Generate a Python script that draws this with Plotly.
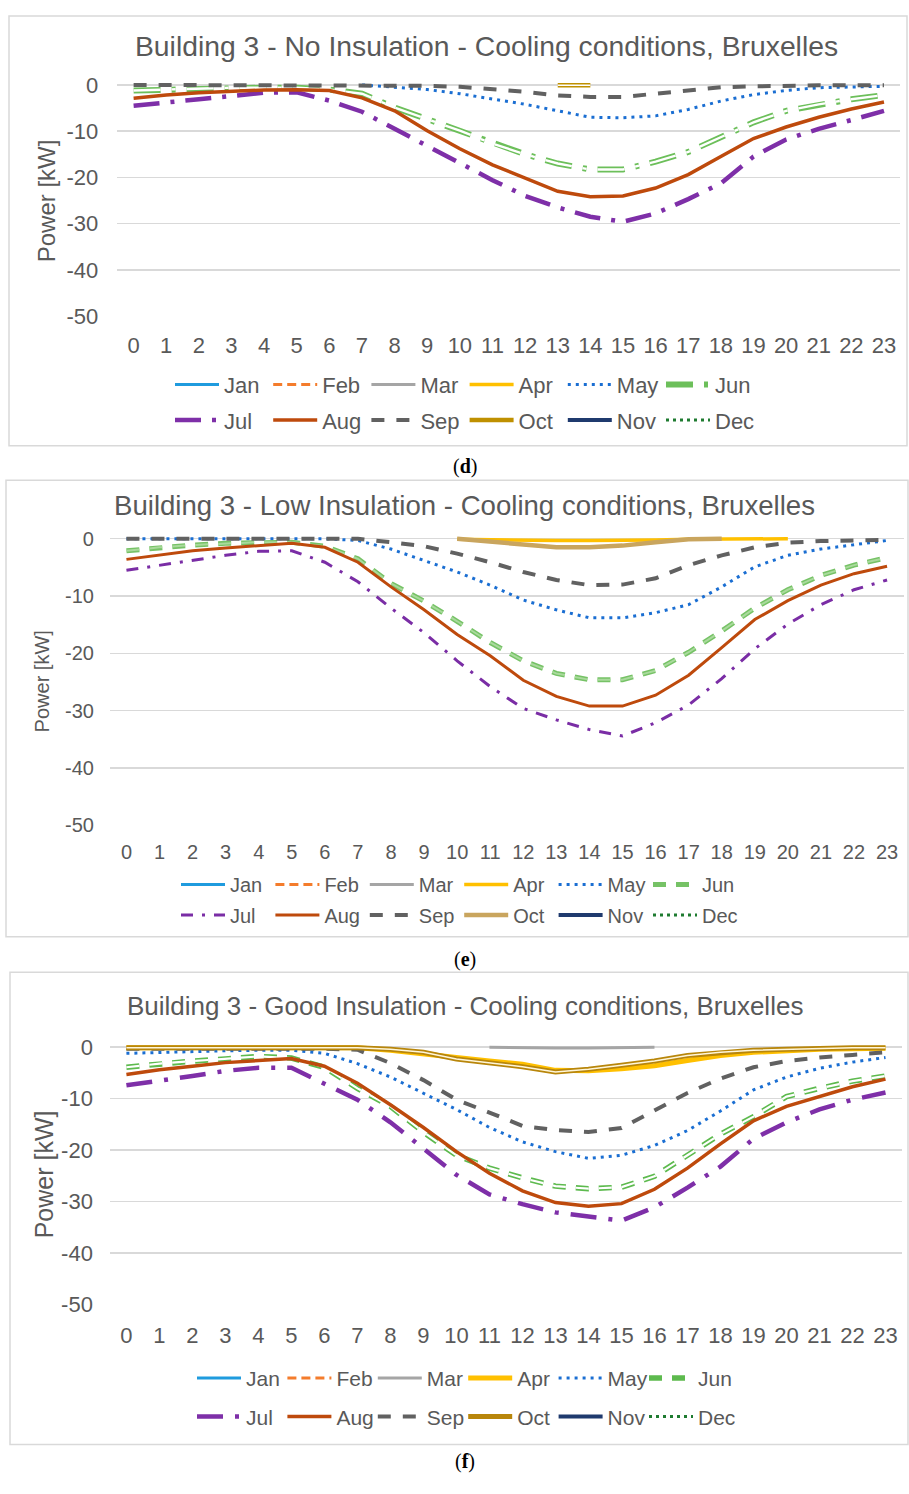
import plotly.graph_objects as go

W, H = 909, 1494


def fx(px):
    return px / W


def fy(py):
    return 1 - py / H


HOURS = list(range(24))
HOUR_LABELS = [str(h) for h in HOURS]
MONTHS = ["Jan", "Feb", "Mar", "Apr", "May", "Jun",
          "Jul", "Aug", "Sep", "Oct", "Nov", "Dec"]
Y_TICKS = [0, -10, -20, -30, -40, -50]
NO_DATA = [None] * 24

# ---------------- (d) No insulation ----------------
d_jan = NO_DATA
d_feb = NO_DATA
d_mar = NO_DATA
d_apr = NO_DATA
d_may = [None, None, None, None, None, None, None, 0.0, -0.5, -1.0, -1.9, -3.1,
         -4.2, -5.6, -7.0, -7.1, -6.7, -5.3, -3.5, -2.1, -1.2, -0.6, -0.4, -0.3]
d_jun = [-1.2, -1.0, -0.8, -0.6, -0.6, -0.6, -1.0, -1.9, -4.9, -7.4, -9.9, -12.7,
         -15.0, -17.0, -18.3, -18.3, -16.6, -14.5, -11.3, -8.1, -5.6, -4.2, -3.1, -2.2]
d_jul = [-4.5, -3.7, -3.1, -2.4, -1.7, -1.6, -3.4, -5.8, -9.5, -13.4, -17.0, -20.6,
         -24.0, -26.5, -28.5, -29.6, -27.8, -24.7, -21.3, -15.5, -11.8, -9.5, -7.6, -5.6]
d_aug = [-2.9, -2.2, -1.7, -1.35, -1.1, -1.05, -1.2, -2.8, -5.6, -9.9, -13.8, -17.3,
         -20.1, -23.0, -24.2, -24.0, -22.3, -19.4, -15.5, -11.6, -9.1, -7.0, -5.2, -3.7]
d_sep = [0.0, 0.0, 0.0, 0.0, 0.0, 0.0, 0.0, 0.0, -0.1, -0.2, -0.4, -0.85,
         -1.5, -2.3, -2.6, -2.6, -1.9, -1.0, -0.5, -0.3, -0.1, -0.1, -0.1, -0.1]
d_oct = [None, None, None, None, None, None, None, None, None, None, None, None,
         None, -0.1, -0.1, None, None, None, None, None, None, None, None, None]
d_nov = NO_DATA
d_dec = NO_DATA

# ---------------- (e) Low insulation ----------------
e_jan = NO_DATA
e_feb = NO_DATA
e_mar = NO_DATA
e_apr = [None, None, None, None, None, None, None, None, None, None, -0.1, -0.2,
         -0.3, -0.3, -0.3, -0.3, -0.2, -0.1, -0.1, -0.1, 0.0, None, None, None]
e_may = [0.0, 0.0, 0.0, 0.0, 0.0, 0.0, 0.0, -0.3, -1.8, -3.8, -5.8, -8.1,
         -10.7, -12.4, -13.8, -13.8, -12.9, -11.5, -8.4, -4.9, -2.9, -1.8, -1.1, -0.3]
e_jun = [-2.1, -1.5, -1.1, -0.8, -0.6, -0.6, -1.3, -3.5, -7.8, -10.9, -14.4, -18.1,
         -21.3, -23.5, -24.6, -24.6, -23.0, -19.8, -16.1, -12.1, -8.9, -6.4, -4.6, -3.3]
e_jul = [-5.5, -4.6, -3.8, -2.9, -2.2, -2.1, -4.1, -7.5, -12.1, -16.4, -21.3, -25.8,
         -29.6, -31.6, -33.3, -34.4, -32.1, -29.0, -24.4, -19.2, -14.9, -11.5, -8.9, -7.2]
e_aug = [-3.6, -2.8, -2.1, -1.6, -1.2, -0.8, -1.5, -4.1, -8.4, -12.4, -16.7, -20.4,
         -24.7, -27.5, -29.2, -29.2, -27.3, -23.8, -19.0, -14.1, -10.8, -8.1, -6.1, -4.8]
e_sep = [0.0, 0.0, 0.0, 0.0, 0.0, 0.0, 0.0, 0.0, -0.6, -1.3, -2.6, -4.1,
         -5.8, -7.2, -8.1, -8.0, -6.9, -4.6, -2.9, -1.5, -0.7, -0.4, -0.3, -0.2]
e_oct = [None, None, None, None, None, None, None, None, None, None, 0.0, -0.5,
         -1.0, -1.5, -1.5, -1.2, -0.6, -0.1, 0.0, None, None, None, None, None]
e_nov = NO_DATA
e_dec = NO_DATA

# ---------------- (f) Good insulation ----------------
f_jan = NO_DATA
f_feb = NO_DATA
f_mar = [None, None, None, None, None, None, None, None, None, None, None, 0.0,
         -0.1, -0.15, -0.15, -0.1, 0.0, None, None, None, None, None, None, None]
f_apr = [-0.1, -0.1, -0.1, -0.1, -0.1, -0.1, -0.1, -0.1, -0.6, -1.2, -2.0, -2.7,
         -3.3, -4.5, -4.6, -4.2, -3.6, -2.6, -1.6, -1.0, -0.6, -0.4, -0.3, -0.2]
f_may = [-1.2, -1.0, -0.8, -0.7, -0.6, -0.6, -1.2, -3.2, -5.8, -8.9, -12.1, -15.6,
         -18.4, -20.3, -21.6, -21.0, -19.1, -16.2, -12.4, -8.3, -5.8, -4.1, -2.9, -2.0]
f_jun = [-3.9, -3.2, -2.7, -2.3, -1.8, -2.1, -3.9, -8.0, -11.5, -16.5, -21.0, -23.5,
         -25.4, -27.0, -27.5, -27.2, -25.1, -21.0, -16.9, -13.5, -9.6, -8.0, -6.6, -5.6]
f_jul = [-7.4, -6.6, -5.6, -4.6, -4.0, -4.0, -7.0, -10.2, -14.6, -19.7, -24.8, -28.6,
         -30.5, -32.1, -33.0, -33.7, -31.1, -27.3, -23.2, -17.8, -14.6, -12.1, -10.2, -8.8]
f_aug = [-5.3, -4.4, -3.7, -3.0, -2.6, -2.2, -3.7, -7.0, -11.2, -15.6, -20.3, -24.5,
         -27.9, -30.2, -30.9, -30.4, -27.6, -23.5, -18.8, -14.3, -11.5, -9.6, -7.7, -6.2]
f_sep = [-0.3, -0.3, -0.3, -0.3, -0.3, -0.3, -0.3, -0.5, -3.1, -6.4, -10.2, -12.7,
         -15.3, -16.1, -16.5, -15.7, -12.4, -8.9, -6.1, -3.9, -2.7, -2.0, -1.5, -1.0]
f_oct = [-0.1, -0.1, -0.1, -0.1, -0.1, -0.1, -0.1, -0.1, -0.4, -1.0, -2.3, -3.0,
         -3.8, -4.8, -4.3, -3.5, -2.7, -1.6, -1.0, -0.6, -0.4, -0.2, -0.1, -0.1]
f_nov = NO_DATA
f_dec = NO_DATA

DATA_D = [d_jan, d_feb, d_mar, d_apr, d_may, d_jun, d_jul, d_aug, d_sep, d_oct, d_nov, d_dec]
DATA_E = [e_jan, e_feb, e_mar, e_apr, e_may, e_jun, e_jul, e_aug, e_sep, e_oct, e_nov, e_dec]
DATA_F = [f_jan, f_feb, f_mar, f_apr, f_may, f_jun, f_jul, f_aug, f_sep, f_oct, f_nov, f_dec]

TITLES = [
    "Building 3 - No Insulation - Cooling conditions, Bruxelles",
    "Building 3 - Low Insulation - Cooling conditions, Bruxelles",
    "Building 3 - Good Insulation - Cooling conditions, Bruxelles",
]
CAPTIONS = ["d", "e", "f"]

# ---------------- styles ----------------
BASE = {
    "Jan": dict(color="#1F9BDE", width=3, dash="solid"),
    "Feb": dict(color="#F47C2C", width=3, dash="9px,5px"),
    "Mar": dict(color="#A5A5A5", width=3, dash="solid"),
    "Apr": dict(color="#FFC000", width=3.5, dash="solid"),
    "May": dict(color="#1A6ED2", width=3, dash="3px,5px"),
    "Aug": dict(color="#BE4A0C", width=3.5, dash="solid"),
    "Sep": dict(color="#616161", width=4, dash="13px,12px"),
    "Nov": dict(color="#1F3A6E", width=4, dash="solid"),
    "Dec": dict(color="#1E7B30", width=3, dash="3px,4px"),
}
PANEL_STYLE = [
    {
        "Jun": dict(color="#6CBF5A", width=6, dash="27px,11px,4px,11px", inner=("#FFFFFF", 2.4)),
        "Jul": dict(color="#7E2FA8", width=4.5, dash="26px,11px,4px,11px"),
        "Oct": dict(color="#BF9000", width=4.5, dash="solid", inner=("#FFFFFF", 1.5)),
    },
    {
        "Jun": dict(color="#76C266", width=5, dash="13px,10px", inner=("#A9DA9C", 2)),
        "Jul": dict(color="#7A2DA5", width=3, dash="12px,9px,3px,9px"),
        "Oct": dict(color="#C9A55E", width=4.5, dash="solid"),
        "Aug": dict(color="#BE4A0C", width=3, dash="solid"),
    },
    {
        "Jun": dict(color="#5DBA4E", width=5.5, dash="13px,10px", inner=("#FFFFFF", 2.2)),
        "Jul": dict(color="#7E2FA8", width=4.5, dash="26px,12px,4px,12px"),
        "Oct": dict(color="#B8860B", width=5, dash="solid", inner=("#FFF6DA", 1.5)),
        "Apr": dict(color="#FFC000", width=5, dash="solid"),
    },
]

# ---------------- geometry (pixels) ----------------
GEOM = [
    dict(x0=117.3, x1=900.3, y0=78.0, y50=312.5, title_xy=(486, 39), title_size=28.3,
         tick_size=22, ytitle_xy=(46, 196), ytitle_size=24, leg_size=22,
         leg_x=176, leg_pitch=98.2, leg_rows=(382, 418), cap_y=465,
         frame=(9, 8, 907, 444), xstand=14, ystand=18),
    dict(x0=109.9, x1=903.6, y0=538.3, y50=829.0, title_xy=(464, 505), title_size=27.6,
         tick_size=20, ytitle_xy=(42, 683), ytitle_size=20, leg_size=20,
         leg_x=182, leg_pitch=94.4, leg_rows=(889, 920), cap_y=965,
         frame=(6, 479, 908, 942), xstand=13, ystand=15),
    dict(x0=109.9, x1=902.0, y0=1054.0, y50=1315.0, title_xy=(465, 1012), title_size=26,
         tick_size=22, ytitle_xy=(44, 1183), ytitle_size=25, leg_size=21,
         leg_x=198, leg_pitch=90.4, leg_rows=(1390, 1429), cap_y=1474,
         frame=(10, 978, 908, 1457), xstand=15, ystand=16),
]

FONT = "Liberation Sans, Arial, sans-serif"
TXT = "#595959"
EXT = 0.9  # headroom above 0 so the lines at 0 are not clipped

fig = go.Figure()
layout = dict(width=W, height=H, margin=dict(l=0, r=0, t=0, b=0),
              paper_bgcolor="white", plot_bgcolor="white", showlegend=True,
              annotations=[], shapes=[])

for p in range(3):
    g = GEOM[p]
    sfx = "" if p == 0 else str(p + 1)
    xa, ya = "x" + sfx, "y" + sfx
    leg1 = "legend" if p == 0 else "legend" + str(2 * p + 1)
    leg2 = "legend" + str(2 * p + 2)
    scale = (g["y50"] - g["y0"]) / 50.0
    top_px = g["y0"] - EXT * scale
    data = [DATA_D, DATA_E, DATA_F][p]

    for i, m in enumerate(MONTHS):
        st = dict(BASE.get(m, {}))
        st.update(PANEL_STYLE[p].get(m, {}))
        leg = leg1 if i < 6 else leg2
        fig.add_trace(go.Scatter(
            x=HOURS, y=data[i], name=m, mode="lines", xaxis=xa, yaxis=ya,
            legend=leg, connectgaps=False, hoverinfo="skip",
            line=dict(color=st["color"], width=st["width"], dash=st["dash"]),
        ))
        if "inner" in st:
            ic, iw = st["inner"]
            fig.add_trace(go.Scatter(
                x=HOURS, y=data[i], name=m, mode="lines", xaxis=xa, yaxis=ya,
                legend=leg, showlegend=False, hoverinfo="skip",
                line=dict(color=ic, width=iw, dash=st["dash"]),
            ))

    layout["xaxis" + sfx] = dict(
        domain=[fx(g["x0"]), fx(g["x1"])], range=[-0.5, 23.5], anchor=ya,
        tickmode="array", tickvals=HOURS, ticktext=HOUR_LABELS,
        showgrid=False, zeroline=False, showline=False, ticks="",
        ticklabelstandoff=g["xstand"],
        tickfont=dict(family=FONT, size=g["tick_size"], color=TXT), fixedrange=True)
    layout["yaxis" + sfx] = dict(
        domain=[fy(g["y50"]), fy(top_px)], range=[-50, EXT], anchor=xa,
        tickmode="array", tickvals=Y_TICKS, ticktext=[str(v) for v in Y_TICKS],
        showgrid=True, gridcolor="#D9D9D9", gridwidth=1.5, zeroline=False,
        showline=False, ticks="", ticklabelstandoff=g["ystand"],
        tickfont=dict(family=FONT, size=g["tick_size"], color=TXT), fixedrange=True)

    for r, (lg, ry) in enumerate(zip((leg1, leg2), g["leg_rows"])):
        layout[lg] = dict(
            orientation="h", x=fx(g["leg_x"] - 6), y=fy(ry), xanchor="left",
            yanchor="middle", bgcolor="rgba(0,0,0,0)", borderwidth=0,
            font=dict(family=FONT, size=g["leg_size"], color=TXT),
            itemwidth=44, entrywidth=g["leg_pitch"] - 59, entrywidthmode="pixels",
            traceorder="normal", itemclick=False, itemdoubleclick=False,
            tracegroupgap=0)

    tx, ty = g["title_xy"]
    layout["annotations"].append(dict(
        text=TITLES[p], x=fx(tx), y=fy(ty), xref="paper", yref="paper",
        xanchor="center", yanchor="middle", showarrow=False,
        font=dict(family=FONT, size=g["title_size"], color=TXT)))
    yx, yy = g["ytitle_xy"]
    layout["annotations"].append(dict(
        text="Power [kW]", x=fx(yx), y=fy(yy), xref="paper", yref="paper",
        xanchor="center", yanchor="middle", showarrow=False, textangle=-90,
        font=dict(family=FONT, size=g["ytitle_size"], color=TXT)))
    layout["annotations"].append(dict(
        text="(<b>" + CAPTIONS[p] + "</b>)", x=fx(465), y=fy(g["cap_y"]),
        xref="paper", yref="paper", xanchor="center", yanchor="middle",
        showarrow=False, font=dict(family="Liberation Serif, Times New Roman, serif",
                                   size=20, color="#000000")))
    fl, ft, fr, fb = g["frame"]
    layout["shapes"].append(dict(
        type="rect", xref="paper", yref="paper", x0=fx(fl), x1=fx(fr),
        y0=fy(fb), y1=fy(ft), line=dict(color="#D9D9D9", width=1.5), layer="below"))

fig.update_layout(**layout)
fig.write_html(
    "out.html",
    config={"displayModeBar": False, "staticPlot": True},
    post_script="document.body.style.margin='0px';document.body.style.overflow='hidden';",
)
